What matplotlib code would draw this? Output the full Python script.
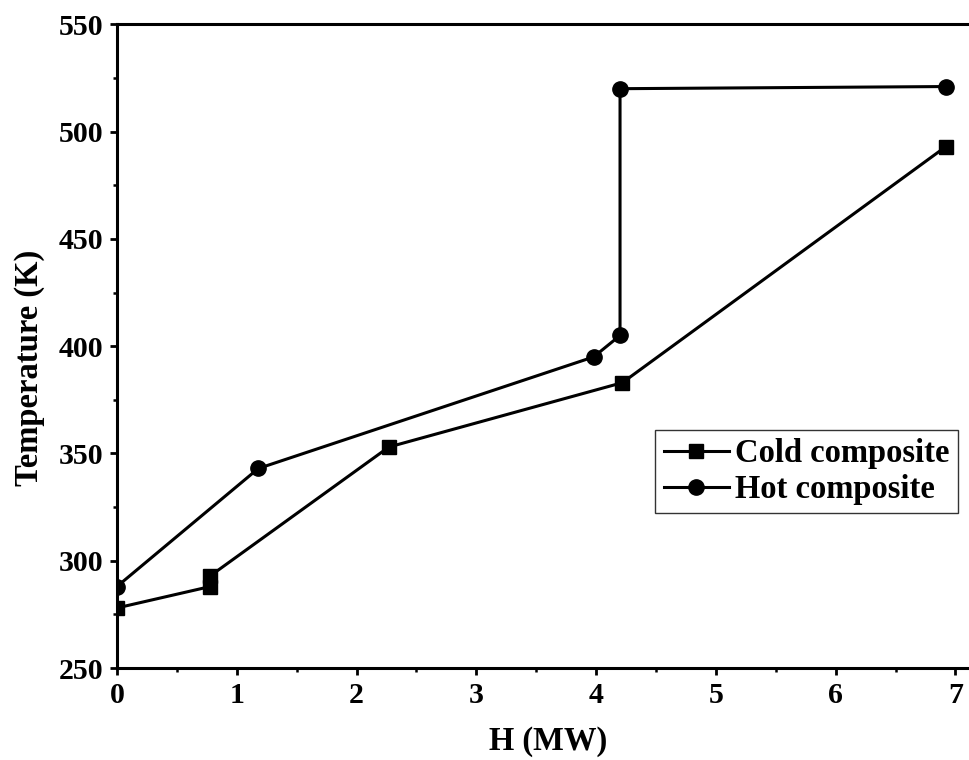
import matplotlib.pyplot as plt
from matplotlib.ticker import MultipleLocator

plt.rcParams['font.family'] = ['Liberation Serif', 'DejaVu Serif']
plt.rcParams['font.weight'] = 'bold'

# Composite curve data
cold_h = [0.0, 0.78, 0.78, 2.27, 4.22, 6.92]
cold_t = [278, 288, 293, 353, 383, 493]
hot_h = [0.0, 1.18, 3.98, 4.2, 4.2, 6.92]
hot_t = [288, 343, 395, 405, 520, 521]

fig = plt.figure(figsize=(9.69, 7.6), dpi=100)
ax = fig.add_axes([0.1207, 0.121, 0.89, 0.847])

ax.plot(cold_h, cold_t, color='black', lw=2.2, marker='s', markersize=9.5, label='Cold composite')
ax.plot(hot_h, hot_t, color='black', lw=2.2, marker='o', markersize=11, label='Hot composite')

ax.set_xlim(0, 7.2)
ax.set_ylim(250, 550)
ax.xaxis.set_major_locator(MultipleLocator(1))
ax.xaxis.set_minor_locator(MultipleLocator(0.5))
ax.yaxis.set_major_locator(MultipleLocator(50))
ax.yaxis.set_minor_locator(MultipleLocator(25))
ax.tick_params(which='major', direction='out', length=5, width=2, labelsize=21.5, pad=5)
ax.tick_params(which='minor', direction='out', length=3, width=1.8)
for s in ax.spines.values():
    s.set_linewidth(2.2)
ax.spines['right'].set_visible(False)

ax.set_xlabel('H (MW)', fontsize=23.5, fontweight='bold', labelpad=12)
ax.set_ylabel('Temperature (K)', fontsize=23.5, fontweight='bold', labelpad=10, y=0.466)

leg = ax.legend(loc='upper right', bbox_to_anchor=(0.9887, 0.4342), bbox_transform=fig.transFigure,
                fontsize=23.5, frameon=True, fancybox=False, edgecolor='black',
                handlelength=2.0, borderpad=0.25, labelspacing=0.15, handletextpad=0.2,
                borderaxespad=0)
leg.get_frame().set_linewidth(1)

fig.savefig('out.png', dpi=100)
